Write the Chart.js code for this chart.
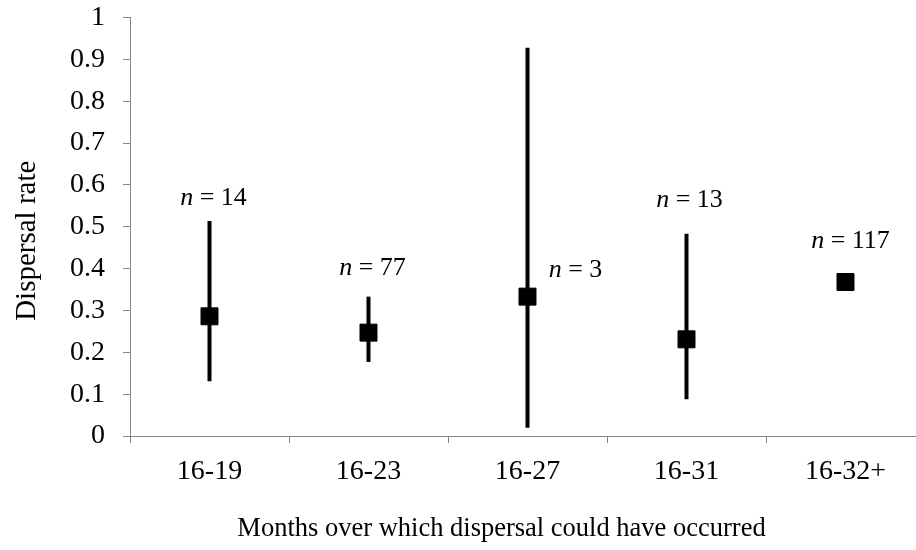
<!DOCTYPE html>
<html>
<head>
<meta charset="utf-8">
<script src="https://cdn.jsdelivr.net/npm/chart.js@4/dist/chart.umd.min.js"></script>
<style>
    html, body { margin: 0; padding: 0; background: #fff; overflow: hidden; }
    #wrap { width: 916px; height: 550px; overflow: hidden; }
    canvas { display: block; }
</style>
</head>
<body>
<div id="wrap"><canvas id="chart" width="940" height="550" style="width:940px;height:550px"></canvas></div>
<script>
// Data
const periods = ['16-19', '16-23', '16-27', '16-31', '16-32+'];
const dispersalRate = [0.286, 0.247, 0.333, 0.231, 0.368];
const lowerCI = [0.131, 0.177, 0.020, 0.088, null];
const upperCI = [0.514, 0.333, 0.928, 0.483, null];
const sampleSizes = [14, 77, 3, 13, 117];
const labelLevel = [0.569, 0.401, 0.397, 0.564, 0.465];

const axisGrey = '#868686';
const serif = "'Liberation Serif', 'Times New Roman', serif";
const tickSize = 28;

// Vertical error bars, drawn under the markers
const errorBars = {
    id: 'errorBars',
    beforeDatasetsDraw(chart) {
        const ctx = chart.ctx;
        const x = chart.scales.x;
        const y = chart.scales.y;
        ctx.save();
        ctx.strokeStyle = '#000';
        ctx.lineWidth = 4;
        ctx.lineCap = 'butt';
        periods.forEach((p, i) => {
            if (lowerCI[i] == null || upperCI[i] == null) return;
            const px = x.getPixelForValue(i);
            ctx.beginPath();
            ctx.moveTo(px, y.getPixelForValue(lowerCI[i]));
            ctx.lineTo(px, y.getPixelForValue(upperCI[i]));
            ctx.stroke();
        });
        ctx.restore();
    }
};

// "n = .." annotations with italic n
const sampleLabels = {
    id: 'sampleLabels',
    afterDatasetsDraw(chart, args, opts) {
        const ctx = chart.ctx;
        const x = chart.scales.x;
        const y = chart.scales.y;
        ctx.save();
        ctx.fillStyle = '#000';
        ctx.textBaseline = 'middle';
        sampleSizes.forEach((n, i) => {
            const italic = 'italic ' + opts.size + 'px ' + serif;
            const plain = opts.size + 'px ' + serif;
            const rest = ' = ' + n;
            ctx.font = italic;
            const w1 = ctx.measureText('n').width;
            ctx.font = plain;
            const w2 = ctx.measureText(rest).width;
            const cx = x.getPixelForValue(i) + opts.dx[i];
            const left = cx - (w1 + w2) / 2;
            const py = y.getPixelForValue(labelLevel[i]);
            ctx.textAlign = 'left';
            ctx.font = italic;
            ctx.fillText('n', left, py);
            ctx.font = plain;
            ctx.fillText(rest, left + w1, py);
        });
        ctx.restore();
    }
};

// Axis titles (placed like the original, a bit off the plot centre)
const axisTitles = {
    id: 'axisTitles',
    afterDraw(chart, args, opts) {
        const ctx = chart.ctx;
        const area = chart.chartArea;
        ctx.save();
        ctx.fillStyle = '#000';
        ctx.textAlign = 'center';
        ctx.textBaseline = 'middle';
        ctx.font = opts.xSize + 'px ' + serif;
        ctx.fillText(opts.xText, (area.left + area.right) / 2 + opts.xShift, opts.xY);
        ctx.translate(opts.yX, (area.top + area.bottom) / 2 + opts.yShift);
        ctx.rotate(-Math.PI / 2);
        ctx.font = opts.ySize + 'px ' + serif;
        ctx.fillText(opts.yText, 0, 0);
        ctx.restore();
    }
};

const ctx = document.getElementById('chart').getContext('2d');
const chart = new Chart(ctx, {
    type: 'line',
    data: {
        labels: periods,
        datasets: [{
            label: 'Dispersal rate',
            data: dispersalRate,
            showLine: false,
            clip: false,
            pointStyle: 'rect',
            pointRadius: 12,
            pointBackgroundColor: '#000',
            pointBorderColor: '#000',
            pointBorderWidth: 1
        }]
    },
    options: {
        responsive: false,
        animation: false,
        layout: {
            autoPadding: false,
            padding: { top: 17.5, right: 15, left: 0, bottom: 0 }
        },
        plugins: {
            legend: { display: false },
            tooltip: { enabled: false },
            sampleLabels: { size: 26, dx: [4, 4, 48, 3, 5] },
            axisTitles: {
                xText: 'Months over which dispersal could have occurred',
                xSize: 26.5,
                xShift: -26,
                xY: 529,
                yText: 'Dispersal rate',
                ySize: 29,
                yX: 27,
                yShift: 14
            }
        },
        scales: {
            x: {
                offset: true,
                grid: {
                    offset: true,
                    drawOnChartArea: false,
                    drawTicks: true,
                    tickLength: 7,
                    color: axisGrey,
                    lineWidth: 1
                },
                border: { color: axisGrey, width: 1 },
                ticks: {
                    color: '#000',
                    font: { family: serif, size: tickSize },
                    padding: 12,
                    maxRotation: 0
                },
                afterFit(scale) { scale.height = 114; }
            },
            y: {
                min: 0,
                max: 1,
                grid: {
                    drawOnChartArea: false,
                    drawTicks: true,
                    tickLength: 7,
                    color: axisGrey,
                    lineWidth: 1
                },
                border: { color: axisGrey, width: 1 },
                ticks: {
                    stepSize: 0.1,
                    color: '#000',
                    font: { family: serif, size: tickSize },
                    padding: 18,
                    callback: (v) => String(Math.round(v * 10) / 10)
                },
                afterFit(scale) {
                    scale.width = 130;
                    // let the top label overhang, as in the original
                    scale.paddingTop = 0;
                    scale.paddingBottom = 0;
                }
            }
        }
    },
    plugins: [errorBars, sampleLabels, axisTitles]
});
</script>
</body>
</html>
